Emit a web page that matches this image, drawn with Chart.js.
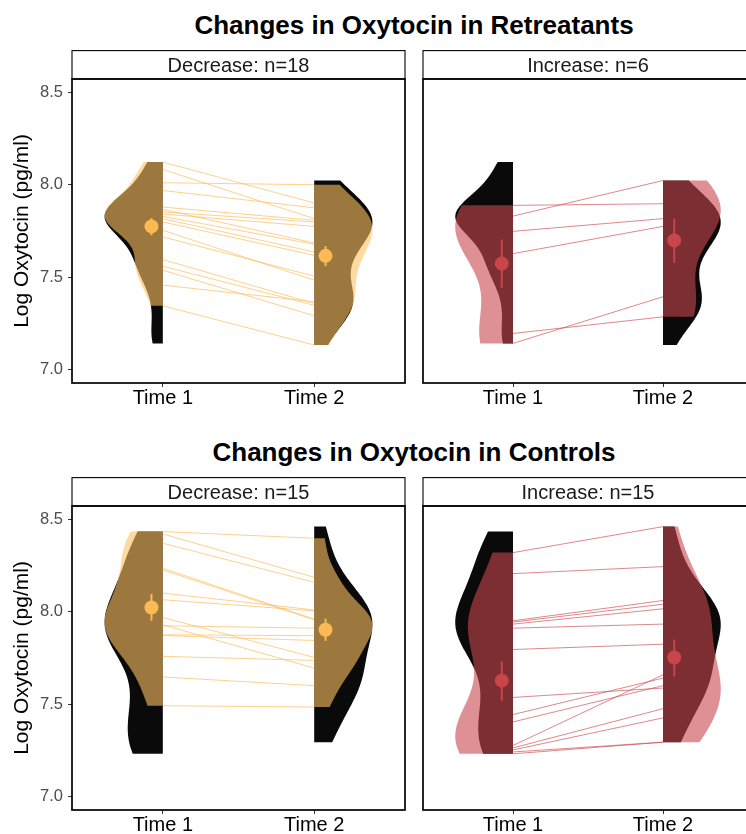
<!DOCTYPE html>
<html>
<head>
<meta charset="utf-8">
<script src="https://cdn.jsdelivr.net/npm/chart.js@4.4.0/dist/chart.umd.min.js"></script>
<style>
  html, body { margin: 0; padding: 0; background: #fff; width: 746px; height: 834px; overflow: hidden; position: relative; }
  .title { position: absolute; left: 72px; width: 684px; text-align: center; font: bold 26px/30px 'Liberation Sans', Arial, sans-serif; color: #000; }
  canvas { position: absolute; }
</style>
</head>
<body>
<div class="title" style="top:10px">Changes in Oxytocin in Retreatants</div>
<div class="title" style="top:437px">Changes in Oxytocin in Controls</div>
<canvas id="retDec" width="412" height="371" style="left:0;top:50px"></canvas>
<canvas id="retInc" width="344" height="371" style="left:416px;top:50px"></canvas>
<canvas id="ctlDec" width="412" height="371" style="left:0;top:477px"></canvas>
<canvas id="ctlInc" width="344" height="371" style="left:416px;top:477px"></canvas>
<script>
const timeLabels = ['Time 1', 'Time 2'];
const yTickValues = [7.0, 7.5, 8.0, 8.5];

// Retreatants, paired values (same index = same person)
const retDecT1 = [8.124, 8.084, 8.012, 7.970, 7.880, 7.867, 7.853, 7.842, 7.829, 7.817, 7.799, 7.754, 7.718, 7.595, 7.559, 7.537, 7.456, 7.344];
const retDecT2 = [7.902, 7.817, 8.001, 7.876, 7.808, 7.685, 7.799, 7.775, 7.678, 7.636, 7.618, 7.483, 7.505, 7.357, 7.347, 7.290, 7.366, 7.131];
const retIncT1 = [7.889, 7.831, 7.748, 7.627, 7.194, 7.140];
const retIncT2 = [7.898, 8.024, 7.817, 7.775, 7.284, 7.393];

// Controls
const ctlDecT1 = [8.436, 8.423, 8.373, 8.237, 8.228, 8.102, 8.066, 7.970, 7.930, 7.925, 7.876, 7.872, 7.759, 7.647, 7.491];
const ctlDecT2 = [8.400, 8.188, 8.161, 7.961, 7.957, 8.011, 8.006, 7.753, 7.695, 7.912, 7.871, 7.845, 7.737, 7.600, 7.484];
const ctlIncT1 = [8.322, 8.208, 7.952, 7.945, 7.934, 7.912, 7.796, 7.536, 7.443, 7.403, 7.275, 7.262, 7.251, 7.240, 7.230];
const ctlIncT2 = [8.463, 8.246, 8.062, 8.042, 8.017, 7.934, 7.825, 7.587, 7.641, 7.600, 7.659, 7.475, 7.425, 7.293, 7.293];

// group means with error bar ends [Time 1, Time 2]
const retDecMean = [7.775, 7.615], retDecLow = [7.727, 7.559], retDecHigh = [7.820, 7.668];
const retIncMean = [7.573, 7.699], retIncLow = [7.441, 7.577], retIncHigh = [7.703, 7.817];
const ctlDecMean = [8.024, 7.903], ctlDecLow = [7.952, 7.843], ctlDecHigh = [8.098, 7.963];
const ctlIncMean = [7.627, 7.753], ctlIncLow = [7.518, 7.650], ctlIncHigh = [7.731, 7.849];

const FONT = "'Liberation Sans', Arial, sans-serif";
Chart.defaults.font.family = FONT;

const orange = { fill: 'rgba(253,192,97,0.6)', line: 'rgba(252,186,84,0.95)', point: 'rgb(252,186,84)' };
const red = { fill: 'rgba(200,70,77,0.6)', line: 'rgba(205,75,80,0.95)', point: 'rgb(200,70,74)' };
const halfWidth = 0.385;
const meanNudge = [-0.075, 0.075];

function quantile(sorted, p) {
    const h = (sorted.length - 1) * p;
    const lo = Math.floor(h);
    return sorted[lo] + (h - lo) * ((sorted[lo + 1] ?? sorted[lo]) - sorted[lo]);
}

// bandwidth like R's bw.nrd0
function bandwidth(vals) {
    const n = vals.length;
    const mean = vals.reduce((a, b) => a + b, 0) / n;
    const sd = Math.sqrt(vals.reduce((a, b) => a + (b - mean) ** 2, 0) / (n - 1));
    const s = [...vals].sort((a, b) => a - b);
    const iqr = quantile(s, 0.75) - quantile(s, 0.25);
    const lo = Math.min(sd, iqr / 1.34) || sd;
    return 0.9 * lo * Math.pow(n, -0.2);
}

// half violin outline, trimmed to the data range
function violin(vals, center, side, color, order) {
    const bw = bandwidth(vals);
    const lo = Math.min(...vals), hi = Math.max(...vals);
    const steps = 90;
    const dens = [];
    for (let i = 0; i <= steps; i++) {
        const y = lo + (hi - lo) * i / steps;
        let d = 0;
        vals.forEach(v => { d += Math.exp(-0.5 * ((y - v) / bw) ** 2); });
        dens.push({ y, d });
    }
    const maxD = Math.max(...dens.map(p => p.d));
    const pts = [{ x: center, y: lo }];
    dens.forEach(p => pts.push({ x: center + side * halfWidth * p.d / maxD, y: p.y }));
    pts.push({ x: center, y: hi });
    // small tension keeps Chart.js off its per-pixel fast path, which makes steps on near-vertical edges
    return { data: pts, fill: 'shape', backgroundColor: color, borderWidth: 0, pointRadius: 0, tension: 0.05, order };
}

function buildDatasets(g) {
    const ds = [];
    ds.push(violin(g.all1, 1, -1, '#0a0a0a', 5));
    ds.push(violin(g.all2, 2, 1, '#0a0a0a', 5));
    ds.push(violin(g.t1, 1, -1, g.col.fill, 4));
    ds.push(violin(g.t2, 2, 1, g.col.fill, 4));
    g.t1.forEach((v, i) => {
        ds.push({ data: [{ x: 1, y: v }, { x: 2, y: g.t2[i] }], borderColor: g.col.line, borderWidth: 0.7, pointRadius: 0, order: 3 });
    });
    [0, 1].forEach(k => {
        const x = k + 1 + meanNudge[k];
        ds.push({ data: [{ x, y: g.low[k] }, { x, y: g.high[k] }], borderColor: g.col.point, borderWidth: 2, pointRadius: 0, order: 2 });
    });
    ds.push({
        data: g.mean.map((m, k) => ({ x: k + 1 + meanNudge[k], y: m })),
        showLine: false, pointRadius: 7, pointBackgroundColor: g.col.point, pointBorderWidth: 0, order: 1
    });
    return ds;
}

const panelFrame = {
    id: 'panelFrame',
    afterDraw(chart, args, opts) {
        const { ctx, chartArea: a } = chart;
        ctx.save();
        ctx.fillStyle = '#fff';
        ctx.fillRect(a.left, 0.6, a.right - a.left, a.top - 0.6);
        ctx.strokeStyle = '#000';
        ctx.lineWidth = 1.1;
        ctx.strokeRect(a.left, 0.6, a.right - a.left, a.top - 0.6);
        ctx.fillStyle = '#1a1a1a';
        ctx.font = '20px ' + FONT;
        ctx.textAlign = 'center';
        ctx.textBaseline = 'alphabetic';
        ctx.fillText(opts.text, (a.left + a.right) / 2, 22);
        ctx.lineWidth = 1.7;
        ctx.strokeRect(a.left, a.top, a.right - a.left, a.bottom - a.top);
        ctx.restore();
    }
};

function makeChart(id, g, strip, showY) {
    const ctx = document.getElementById(id).getContext('2d');
    const yScale = {
        type: 'linear', min: 6.925, max: 8.575, display: showY,
        afterBuildTicks: (axis) => { axis.ticks = yTickValues.map(v => ({ value: v })); },
        ticks: { callback: (v) => v.toFixed(1), font: { size: 16.5 }, color: '#4d4d4d', padding: 5 },
        grid: { drawOnChartArea: false, drawTicks: true, tickLength: 4, color: '#333' },
        border: { display: false },
        title: { display: true, text: 'Log Oxytocin (pg/ml)', font: { size: 21 }, color: '#000', padding: { top: 10, bottom: 0 } }
    };
    if (showY) yScale.afterFit = (s) => { s.width = 72; };
    return new Chart(ctx, {
        type: 'line',
        data: { datasets: buildDatasets(g) },
        plugins: [panelFrame],
        options: {
            responsive: false,
            animation: false,
            events: [],
            layout: { padding: { top: 29, right: showY ? 2 : 4, left: showY ? 0 : 2, bottom: 0 } },
            elements: { line: { tension: 0 } },
            plugins: {
                legend: { display: false },
                tooltip: { enabled: false },
                panelFrame: { text: strip }
            },
            scales: {
                x: {
                    type: 'linear', min: 0.4, max: 2.6,
                    afterBuildTicks: (axis) => { axis.ticks = [{ value: 1 }, { value: 2 }]; },
                    afterFit: (s) => { s.height = 38; },
                    ticks: {
                        callback: (v) => timeLabels[Math.round(v) - 1],
                        font: { size: 20, lineHeight: 1.1 }, color: '#000', padding: 0, maxRotation: 0
                    },
                    grid: { drawOnChartArea: false, drawTicks: true, tickLength: 4, color: '#333' },
                    border: { display: false }
                },
                y: yScale
            }
        }
    });
}

const retAll1 = retDecT1.concat(retIncT1), retAll2 = retDecT2.concat(retIncT2);
const ctlAll1 = ctlDecT1.concat(ctlIncT1), ctlAll2 = ctlDecT2.concat(ctlIncT2);

makeChart('retDec', { t1: retDecT1, t2: retDecT2, all1: retAll1, all2: retAll2, mean: retDecMean, low: retDecLow, high: retDecHigh, col: orange }, 'Decrease: n=18', true);
makeChart('retInc', { t1: retIncT1, t2: retIncT2, all1: retAll1, all2: retAll2, mean: retIncMean, low: retIncLow, high: retIncHigh, col: red }, 'Increase: n=6', false);
makeChart('ctlDec', { t1: ctlDecT1, t2: ctlDecT2, all1: ctlAll1, all2: ctlAll2, mean: ctlDecMean, low: ctlDecLow, high: ctlDecHigh, col: orange }, 'Decrease: n=15', true);
makeChart('ctlInc', { t1: ctlIncT1, t2: ctlIncT2, all1: ctlAll1, all2: ctlAll2, mean: ctlIncMean, low: ctlIncLow, high: ctlIncHigh, col: red }, 'Increase: n=15', false);
</script>
</body>
</html>
